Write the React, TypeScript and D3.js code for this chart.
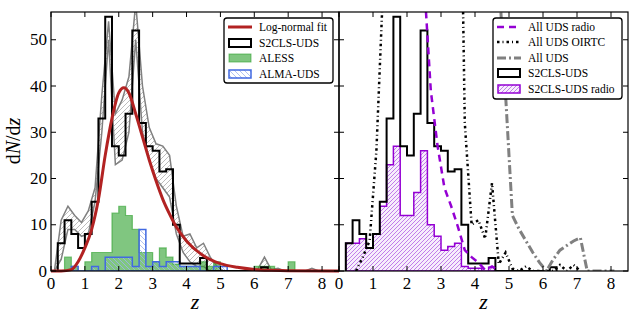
import React from 'react'
import * as d3 from 'd3'

const BIN = 0.2
// histogram heights; bin i spans [0.2*i, 0.2*i + 0.2]
const s2clsN = [0, 6, 11, 8, 5, 8, 15, 33, 55, 27, 25, 34, 52, 32, 27, 26, 21.5, 22, 10, 1.6, 1.6, 1.6, 2.8, 0, 0, 0, 0, 0, 0, 0, 0, 0.8]
const alessN = [0, 0, 3, 1, 0, 2, 4, 4, 4, 12.5, 14, 12, 9, 4, 4, 2, 5, 3, 1.5, 1, 1, 1, 2, 1, 2, 0, 0, 0, 0, 0, 1, 1, 1, 0, 0, 2]
const almaN = [0, 0, 0, 1, 0, 0, 1, 0, 3, 3, 3, 3, 1, 9, 1, 2, 1, 2, 2, 1, 1, 1, 0, 0, 1, 1]
const s2clsRadioN = [0, 6, 6, 7, 5, 8, 14, 23, 27, 12, 12, 17, 26, 10, 7.5, 4.5, 5.3, 6, 1, 0.6, 0.6, 0, 0.8]

// grey envelope of S2CLS-UDS, at bin centres 0.1 + 0.2*i
const envHigh = [0, 11, 14, 12, 10.5, 13, 18, 38, 54, 34, 37, 42, 58, 40, 31, 27.5, 27, 25, 14, 7.5, 8, 5, 6, 3, 1, 0, 0, 0, 0, 0, 0.3, 3, 0.3, 0.6, 0, 0, 0, 0, 0.6, 0, 0]
const envLow = [0, 2.5, 9, 9, 7.5, 8, 15, 30, 50, 23, 24, 30, 50, 30, 24, 20, 18, 16, 8, 4, 2, 1, 1, 0, 0, 0, 0, 0, 0, 0, 0, 0.8, 0, 0, 0, 0, 0, 0, 0, 0, 0]

// log-normal fit
const fitZ = [0, 0.3, 0.6, 0.8, 1.0, 1.2, 1.4, 1.6, 1.8, 2.0, 2.15, 2.3, 2.5, 2.7, 2.9, 3.1, 3.3, 3.5, 3.7, 4.0, 4.5, 5.0, 5.5, 6.0, 6.5, 7.0, 8.5]
const fitN = [0, 0, 0.3, 2, 5, 9, 15.5, 25, 33, 38.5, 39.6, 38.5, 34, 29, 24, 19.5, 15.5, 12.3, 9.5, 6.5, 3.3, 1.6, 0.8, 0.35, 0.15, 0.05, 0]

// all-UDS distributions (right panel)
const radioZ = [2.3, 2.5, 2.7, 2.9, 3.1, 3.3, 3.5, 3.7, 3.9, 4.1, 4.3, 4.5, 4.7]
const radioN = [95, 63, 39, 27, 18, 14, 9.5, 4.5, 3, 1.8, 0.2, 1.0, 0]
const oirtcZ = [0.5, 0.7, 0.9, 1.1, 1.3, 1.5, 1.7, 1.9, 2.1, 2.3, 2.5, 2.7, 2.9, 3.1, 3.3, 3.5, 3.7, 3.9, 4.1, 4.3, 4.5, 4.7, 4.9, 5.1, 5.3, 5.5, 5.7, 5.9, 6.1, 6.3, 6.5, 6.7, 6.9, 7.1]
const oirtcN = [0, 3, 6.5, 26, 62, 120, 170, 200, 210, 205, 195, 185, 170, 155, 140, 128, 32, 10, 11, 7, 19, 1.5, 4, 0.5, 0, 1, 0, 0, 0, 0, 1.3, 0, 1.3, 0]
const allZ = [4.5, 4.7, 4.9, 5.1, 5.3, 5.5, 5.7, 5.9, 6.1, 6.3, 6.5, 6.7, 6.9, 7.1, 7.3, 7.5, 7.7, 7.9, 8.1]
const allN = [100, 64, 38, 12, 9, 6.5, 4, 1.8, 0, 2.5, 4.5, 5.5, 6.5, 7.2, 0, 0, 0, 0, 0]

const xTicks = [0, 1, 2, 3, 4, 5, 6, 7, 8]
const yTicks = [0, 10, 20, 30, 40, 50]

const FONT = "'Liberation Serif', 'DejaVu Serif', serif"
const RED = '#b22222'
const GREEN = '#2ca02c'
const BLUE = '#4169e1'
const PURPLE = '#9400d3'
const GREY = '#808080'

const top = 12
const bottom = 271
const y = d3.scaleLinear().domain([0, 56]).range([bottom, top])
const xL = d3.scaleLinear().domain([0, 8.5]).range([51, 339])
const xR = d3.scaleLinear().domain([0, 8.5]).range([339, 628])

function stepPath(vals: number[], x: d3.ScaleLinear<number, number>, closed: boolean) {
  const first = vals.findIndex(v => v > 0)
  let last = vals.length - 1
  while (last > 0 && !(vals[last] > 0)) last--
  let d = `M${x(first * BIN)},${y(0)}`
  for (let i = first; i <= last; i++) {
    d += `L${x(i * BIN)},${y(vals[i])}L${x((i + 1) * BIN)},${y(vals[i])}`
  }
  d += `L${x((last + 1) * BIN)},${y(0)}`
  return closed ? d + 'Z' : d
}

function linePath(zs: number[], ns: number[], x: d3.ScaleLinear<number, number>, curve = d3.curveLinear) {
  const pts = zs.map((z, i) => [z, ns[i]] as [number, number])
  return d3.line<[number, number]>().x(d => x(d[0])).y(d => y(d[1])).curve(curve)(pts) || ''
}

function Frame({x, labels}: {x: d3.ScaleLinear<number, number>; labels: boolean}) {
  const [x0, x1] = x.range()
  const tl = 5
  return (
    <g>
      {xTicks.map(t => (
        <g key={'x' + t}>
          <line x1={x(t)} x2={x(t)} y1={bottom} y2={bottom - tl} stroke="#000" />
          <line x1={x(t)} x2={x(t)} y1={top} y2={top + tl} stroke="#000" />
          <text x={x(t)} y={289} textAnchor="middle" fontSize={17}>{t}</text>
        </g>
      ))}
      {yTicks.map(t => (
        <g key={'y' + t}>
          <line x1={x0} x2={x0 + tl} y1={y(t)} y2={y(t)} stroke="#000" />
          <line x1={x1} x2={x1 - tl} y1={y(t)} y2={y(t)} stroke="#000" />
          {labels && (
            <text x={x0 - 4} y={y(t) + 5.5} textAnchor="end" fontSize={17}>{t}</text>
          )}
        </g>
      ))}
      <rect x={x0} y={top} width={x1 - x0} height={bottom - top} fill="none" stroke="#000" strokeWidth={1.2} />
      <text x={(x0 + x1) / 2} y={309} textAnchor="middle" fontSize={22} fontStyle="italic">z</text>
    </g>
  )
}

function LegendRow({yy, x0, label, children}: {yy: number; x0: number; label: string; children: React.ReactNode}) {
  return (
    <g transform={`translate(${x0},${yy})`}>
      {children}
      <text x={31} y={4} fontSize={11.5}>{label}</text>
    </g>
  )
}

export default function App() {
  const envPts = envHigh.map((h, i) => ({z: 0.1 + BIN * i, hi: h, lo: envLow[i]}))
  const band = d3.area<{z: number; hi: number; lo: number}>()
    .x(d => xL(d.z)).y0(d => y(d.lo)).y1(d => y(d.hi))(envPts) || ''
  const envLineHi = d3.line<{z: number; hi: number; lo: number}>().x(d => xL(d.z)).y(d => y(d.hi))(envPts) || ''
  const envLineLo = d3.line<{z: number; hi: number; lo: number}>().x(d => xL(d.z)).y(d => y(d.lo))(envPts) || ''

  return (
    <svg width={640} height={320} fontFamily={FONT} style={{position: 'absolute', left: 0, top: 0, background: '#fff'}}>
      <defs>
        <clipPath id="clipL"><rect x={51} y={top} width={288} height={bottom - top} /></clipPath>
        <clipPath id="clipR"><rect x={339} y={top} width={289} height={bottom - top} /></clipPath>
        <pattern id="hatchGrey" patternUnits="userSpaceOnUse" width={5} height={5}>
          <path d="M-1,1L1,-1M0,5L5,0M4,6L6,4" stroke="#a0a0a0" strokeWidth={0.7} />
        </pattern>
        <pattern id="hatchBlue" patternUnits="userSpaceOnUse" width={5} height={5}>
          <path d="M-1,4L1,6M0,0L5,5M4,-1L6,1" stroke="#9db3f0" strokeWidth={0.8} />
        </pattern>
        <pattern id="hatchPurple" patternUnits="userSpaceOnUse" width={4} height={4}>
          <rect width={4} height={4} fill="#f7eefc" />
          <path d="M-1,1L1,-1M0,4L4,0M3,5L5,3" stroke="#b461e6" strokeWidth={0.8} />
        </pattern>
      </defs>

      <rect x={0} y={0} width={640} height={320} fill="#fff" />

      {/* left panel */}
      <g clipPath="url(#clipL)">
        <path d={band} fill="url(#hatchGrey)" />
        <path d={envLineHi} fill="none" stroke={GREY} strokeWidth={1.5} />
        <path d={envLineLo} fill="none" stroke={GREY} strokeWidth={1.5} />
        <path d={stepPath(alessN, xL, true)} fill={GREEN} fillOpacity={0.6} stroke={GREEN} strokeOpacity={0.6} strokeWidth={1.2} />
        <path d={stepPath(almaN, xL, true)} fill="url(#hatchBlue)" stroke={BLUE} strokeWidth={1.5} />
        <path d={stepPath(s2clsN, xL, false)} fill="none" stroke="#000" strokeWidth={2} />
      </g>
      <path d={linePath(fitZ, fitN, xL, d3.curveMonotoneX)} fill="none" stroke={RED} strokeWidth={3} />

      {/* right panel */}
      <g clipPath="url(#clipR)">
        <path d={stepPath(s2clsRadioN, xR, true)} fill="url(#hatchPurple)" stroke={PURPLE} strokeWidth={1.5} />
        <path d={stepPath(s2clsN, xR, false)} fill="none" stroke="#000" strokeWidth={2} />
        <path d={linePath(radioZ, radioN, xR)} fill="none" stroke={PURPLE} strokeWidth={2.5} strokeDasharray="7,5" />
        <path d={linePath(oirtcZ, oirtcN, xR)} fill="none" stroke="#000" strokeWidth={2.5} strokeDasharray="2.5,3,1,3" />
        <path d={linePath(allZ, allN, xR)} fill="none" stroke={GREY} strokeWidth={3} strokeDasharray="9,3,2,3" />
      </g>

      <Frame x={xL} labels={true} />
      <Frame x={xR} labels={false} />

      <text transform="translate(20,141) rotate(-90)" textAnchor="middle" fontSize={20}>
        d<tspan fontStyle="italic">N</tspan>/d<tspan fontStyle="italic">z</tspan>
      </text>

      {/* left legend */}
      <g>
        <rect x={224} y={18} width={109} height={65} rx={3} fill="#fff" stroke="#000" strokeWidth={1.3} />
        <LegendRow yy={27} x0={228} label="Log-normal fit">
          <line x1={0} x2={24} y1={0} y2={0} stroke={RED} strokeWidth={3} />
        </LegendRow>
        <LegendRow yy={43} x0={228} label="S2CLS-UDS">
          <rect x={1} y={-4} width={22} height={8} fill="#fff" stroke="#000" strokeWidth={2} />
        </LegendRow>
        <LegendRow yy={58} x0={228} label="ALESS">
          <rect x={1} y={-4} width={22} height={8} fill={GREEN} fillOpacity={0.6} stroke={GREEN} strokeOpacity={0.6} />
        </LegendRow>
        <LegendRow yy={74} x0={228} label="ALMA-UDS">
          <rect x={1} y={-4} width={22} height={8} fill="url(#hatchBlue)" stroke={BLUE} strokeWidth={1.5} />
        </LegendRow>
      </g>

      {/* right legend */}
      <g>
        <rect x={493} y={18} width={129} height={81} rx={3} fill="#fff" stroke="#000" strokeWidth={1.3} />
        <LegendRow yy={27} x0={497} label="All UDS radio">
          <line x1={0} x2={24} y1={0} y2={0} stroke={PURPLE} strokeWidth={2.5} strokeDasharray="7,5" />
        </LegendRow>
        <LegendRow yy={42} x0={497} label="All UDS OIRTC">
          <line x1={0} x2={24} y1={0} y2={0} stroke="#000" strokeWidth={2.5} strokeDasharray="2.5,3,1,3" />
        </LegendRow>
        <LegendRow yy={58} x0={497} label="All UDS">
          <line x1={0} x2={24} y1={0} y2={0} stroke={GREY} strokeWidth={3} strokeDasharray="9,3,2,3" />
        </LegendRow>
        <LegendRow yy={73} x0={497} label="S2CLS-UDS">
          <rect x={1} y={-4} width={22} height={8} fill="#fff" stroke="#000" strokeWidth={2} />
        </LegendRow>
        <LegendRow yy={89} x0={497} label="S2CLS-UDS radio">
          <rect x={1} y={-4} width={22} height={8} fill="url(#hatchPurple)" stroke={PURPLE} strokeWidth={1.5} />
        </LegendRow>
      </g>
    </svg>
  )
}
